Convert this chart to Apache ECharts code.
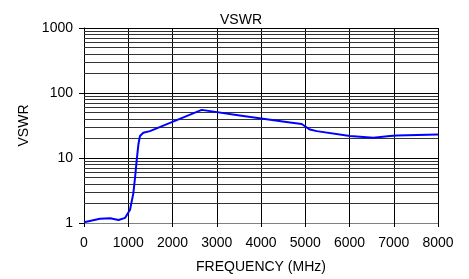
<!DOCTYPE html>
<html lang="en">
<head>
    <meta charset="UTF-8">
    <title>VSWR</title>
    <script type="text/javascript" src="https://cdn.jsdelivr.net/npm/echarts@6/dist/echarts.min.js"></script>
    <style>
        body { margin: 0; background: #fff; }
    </style>
</head>
<body>
    <div id="main" style="width: 469px;height:279px;"></div>
    <script type="text/javascript">
    // frequency (MHz) and VSWR
    let freq = [0, 45, 360, 590, 780, 930, 1040, 1115, 1155, 1190, 1230, 1265, 1340, 1490, 2660, 3520, 4655, 4920, 5105, 5260, 6010, 6540, 6915, 7065, 8000];
    let vswr = [1.03, 1.05, 1.16, 1.18, 1.11, 1.2, 1.6, 2.86, 5.1, 9.1, 16.3, 21.8, 24.4, 25.9, 55, 45, 35.3, 33.3, 27.4, 25.9, 21.8, 20.5, 21.8, 22.2, 23];

    // minor grid lines of the log axis
    let gridValues = [2, 3, 4, 5, 6, 7, 8, 9, 20, 30, 40, 50, 60, 70, 80, 90, 200, 300, 400, 500, 600, 700, 800, 900];

    let myChart = echarts.init(document.getElementById('main'));

    let points = [];
    for (let i = 0; i < freq.length; i++) {
        points.push([freq[i], vswr[i]]);
    }

    let font = 'Liberation Sans, Arial, sans-serif';

    option = {
        animation: false,
        title: {
            text: 'VSWR',
            left: 236,
            textAlign: 'center',
            top: 8,
            textStyle: { fontFamily: font, fontSize: 14, fontWeight: 'normal', color: '#000' }
        },
        grid: { left: 84, right: 31, top: 28, bottom: 52 },
        xAxis: {
            type: 'value',
            min: 0,
            max: 8000,
            interval: 1000,
            name: 'FREQUENCY (MHz)',
            nameLocation: 'middle',
            nameGap: 37,
            nameTextStyle: { fontFamily: font, fontSize: 14, color: '#000' },
            axisLine: { lineStyle: { color: '#808080', width: 1 } },
            axisTick: { length: 4, lineStyle: { color: '#000' } },
            axisLabel: {
                margin: 13, fontFamily: font, fontSize: 14, color: '#000',
                formatter: function (v) { return String(v); }
            },
            splitLine: { show: true, lineStyle: { color: '#000', width: 1 } }
        },
        yAxis: {
            type: 'log',
            logBase: 10,
            min: 1,
            max: 1000,
            name: 'VSWR',
            nameLocation: 'middle',
            nameGap: 51,
            nameTextStyle: { fontFamily: font, fontSize: 14, color: '#000' },
            axisLine: { show: true, lineStyle: { color: '#000', width: 1 } },
            axisTick: { show: true, length: 5, lineStyle: { color: '#000' } },
            axisLabel: {
                margin: 11, fontFamily: font, fontSize: 14, color: '#000',
                formatter: function (v) { return String(Math.round(v)); }
            },
            splitLine: { show: true, lineStyle: { color: '#000', width: 1 } }
        },
        series: [{
            name: 'VSWR',
            type: 'line',
            data: points,
            smooth: false,
            symbol: 'none',
            lineStyle: { color: '#0000ff', width: 2, join: 'round' },
            markLine: {
                silent: true,
                symbol: 'none',
                label: { show: false },
                lineStyle: { color: '#333', width: 1, type: 'solid' },
                data: gridValues.map(function (v) { return { yAxis: v }; })
            },
            z: 5
        }]
    };

    myChart.setOption(option);
    </script>
</body>
</html>
